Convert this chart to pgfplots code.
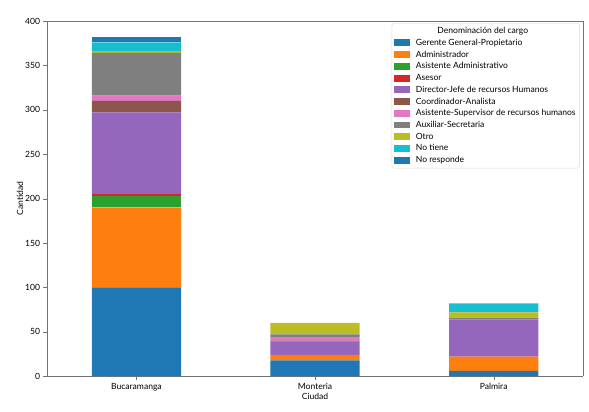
\documentclass[border=0pt]{standalone}
\usepackage{pgfplots}
\pgfplotsset{compat=1.18}
\usepackage{pgfplotstable}
\usepackage{fontspec}
\setmainfont{Lato}

\definecolor{tblue}{HTML}{1F77B4}
\definecolor{torange}{HTML}{FF7F0E}
\definecolor{tgreen}{HTML}{2CA02C}
\definecolor{tred}{HTML}{D62728}
\definecolor{tpurple}{HTML}{9467BD}
\definecolor{tbrown}{HTML}{8C564B}
\definecolor{tpink}{HTML}{E377C2}
\definecolor{tgray}{HTML}{7F7F7F}
\definecolor{tolive}{HTML}{BCBD22}
\definecolor{tcyan}{HTML}{17BECF}

% x: 0 Bucaramanga, 1 Monteria, 2 Palmira
\pgfplotstableread{
x ger adm asi ase dir coo sup aux otr not nr
0 100 90 13 2 92 13 6 48 2 10 6
1 18 6 0 0 15 1 4 3 13 0 0
2 6 16 0 0 42 0 0 2 6 10 0
}\datos

\newcommand\f{\fontsize{8.6pt}{10pt}\selectfont}
\newlength\legw
\begin{document}
\f
\settowidth{\legw}{Asistente-Supervisor de recursos humanos}
\begin{tikzpicture}
\begin{axis}[
    scale only axis,
    width=537bp, height=356bp,
    ybar stacked, bar width=0.5,
    xmin=-0.5, xmax=2.5, ymin=0, ymax=400,
    xtick={0,1,2},
    xticklabels={Bucaramanga,Monteria,Palmira},
    ytick={0,50,...,400},
    /pgf/number format/assume math mode=true,
    tick label style={font=\f},
    label style={font=\f},
    xlabel={Ciudad}, ylabel={Cantidad},
    xlabel style={yshift=4bp},
    ylabel style={yshift=-4bp},
    axis line style={black!55},
    tick style={black!55},
    major tick length=4bp,
    tick align=outside,
    xtick pos=bottom, ytick pos=left,
    axis x line*=bottom, axis y line*=left,
    legend cell align=left,
    legend image code/.code={\fill[#1,draw=none,sharp corners] (0bp,-3.5bp) rectangle (16bp,3.5bp); \path (20bp,0bp);},
    legend style={
      at={(rel axis cs:0.994,0.994)}, anchor=north east,
      draw=black!15, rounded corners=2pt,
      font=\f,
      inner xsep=2pt, inner ysep=2pt,
      nodes={inner xsep=2pt, inner ysep=0pt, text height=8.4pt, text depth=3.4pt},
    },
]
\addlegendimage{empty legend}
\addlegendentry{\hspace*{-26bp}\makebox[\dimexpr\legw+26bp\relax][c]{Denominación del cargo}}
\addplot[fill=tblue, draw=none] table[x=x, y=ger] {\datos};
\addlegendentry{Gerente General-Propietario}
\addplot[fill=torange, draw=none] table[x=x, y=adm] {\datos};
\addlegendentry{Administrador}
\addplot[fill=tgreen, draw=none] table[x=x, y=asi] {\datos};
\addlegendentry{Asistente Administrativo}
\addplot[fill=tred, draw=none] table[x=x, y=ase] {\datos};
\addlegendentry{Asesor}
\addplot[fill=tpurple, draw=none] table[x=x, y=dir] {\datos};
\addlegendentry{Director-Jefe de recursos Humanos}
\addplot[fill=tbrown, draw=none] table[x=x, y=coo] {\datos};
\addlegendentry{Coordinador-Analista}
\addplot[fill=tpink, draw=none] table[x=x, y=sup] {\datos};
\addlegendentry{Asistente-Supervisor de recursos humanos}
\addplot[fill=tgray, draw=none] table[x=x, y=aux] {\datos};
\addlegendentry{Auxiliar-Secretaria}
\addplot[fill=tolive, draw=none] table[x=x, y=otr] {\datos};
\addlegendentry{Otro}
\addplot[fill=tcyan, draw=none] table[x=x, y=not] {\datos};
\addlegendentry{No tiene}
\addplot[fill=tblue, draw=none] table[x=x, y=nr] {\datos};
\addlegendentry{No responde}
\end{axis}
\draw[black!55] (current axis.north west) -- (current axis.north east) -- (current axis.south east);
\path ([xshift=-45bp,yshift=-35bp]current axis.south west) rectangle ([xshift=6bp,yshift=21bp]current axis.north east);
\end{tikzpicture}
\end{document}
